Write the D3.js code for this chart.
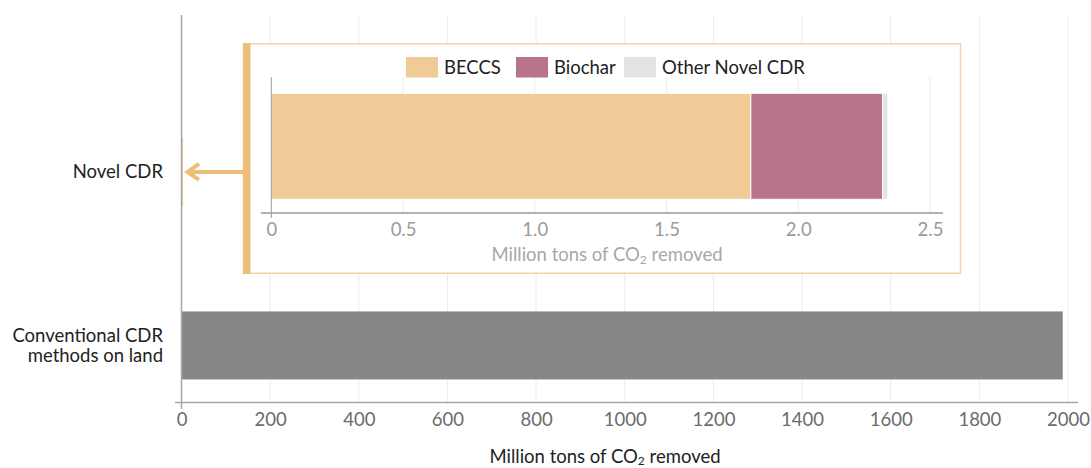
<!DOCTYPE html>
<html><head><meta charset="utf-8">
<script src="https://cdn.jsdelivr.net/npm/d3@7"></script>
<style>
body{margin:0;background:#fff;}
svg{display:block;font-family:Lato,"Open Sans",sans-serif;}
</style></head>
<body>
<svg id="chart" width="1091" height="468"></svg>
<script>
// ---- data ----
const categories = ["Novel CDR", "Conventional CDR methods on land"];
const categoryLines = [["Novel CDR"], ["Conventional CDR", "methods on land"]];
const totals = [2.34, 1987];
const novelSegments = ["BECCS", "Biochar", "Other Novel CDR"];
const novelValues = [1.82, 0.50, 0.02];
const mainTicks = [0, 200, 400, 600, 800, 1000, 1200, 1400, 1600, 1800, 2000];
const insetTicks = [0, 0.5, 1.0, 1.5, 2.0, 2.5];
const insetTickLabels = ["0", "0.5", "1.0", "1.5", "2.0", "2.5"];

const segColors = ["#F0CB98", "#B8758A", "#E3E3E3"];
const mainColors = ["#F0CB98", "#878787"];
const accent = "#EDBE78";
const FS = 18.5;

const svg = d3.select("#chart");

// ---- main chart ----
const x = d3.scaleLinear().domain([0, 2000]).range([181.5, 1068]);
const y = d3.scaleBand().domain(categories).range([15, 402])
  .paddingInner(0.608).paddingOuter(0.419).align(0.845);

// gridlines
svg.append("g").selectAll("line").data(mainTicks.slice(1)).join("line")
  .attr("x1", d => x(d)).attr("x2", d => x(d))
  .attr("y1", 15).attr("y2", 402)
  .attr("stroke", "#ebebeb").attr("stroke-width", 1);

// bars
svg.append("g").selectAll("rect").data(categories).join("rect")
  .attr("x", x(0) + 0.5)
  .attr("y", d => y(d))
  .attr("width", (d, i) => Math.max(1, x(totals[i]) - x(0)))
  .attr("height", y.bandwidth())
  .attr("fill", (d, i) => mainColors[i]);

// x axis
const xAxis = d3.axisBottom(x).tickValues(mainTicks).tickSize(0).tickPadding(10)
  .tickFormat(d3.format("d"));
const gx = svg.append("g").attr("transform", "translate(0,402.5)").call(xAxis);
gx.select(".domain").remove();
gx.selectAll("text").attr("font-size", FS).attr("fill", "#6b6b6b")
  .attr("font-family", "Lato, sans-serif");
svg.append("line").attr("x1", 175).attr("x2", 1078).attr("y1", 402.5).attr("y2", 402.5)
  .attr("stroke", "#a6a6a6").attr("stroke-width", 1.5);
// y axis line
svg.append("line").attr("x1", x(0)).attr("x2", x(0)).attr("y1", 15).attr("y2", 409)
  .attr("stroke", "#a6a6a6").attr("stroke-width", 1.5);

// category labels
const lab = svg.append("g").selectAll("text").data(categories).join("text")
  .attr("text-anchor", "end")
  .attr("font-size", FS).attr("fill", "#222")
  .attr("x", 163)
  .attr("y", (d, i) => y(d) + y.bandwidth() / 2 - (categoryLines[i].length - 1) * 10 + 6.5);
lab.each(function(d, i) {
  d3.select(this).selectAll("tspan").data(categoryLines[i]).join("tspan")
    .attr("x", 163).attr("dy", (t, j) => j === 0 ? 0 : 20.5).text(t => t);
});

// main axis title
const t1 = svg.append("text").attr("x", 605).attr("y", 463).attr("text-anchor", "middle")
  .attr("font-size", FS).attr("fill", "#222");
t1.append("tspan").text("Million tons of CO");
t1.append("tspan").attr("font-size", 12).attr("dy", 1.5).text("2");
t1.append("tspan").attr("dy", -1.5).text(" removed");

// ---- inset ----
const bx0 = 243, bx1 = 960.5, by0 = 43, by1 = 274;
svg.append("rect").attr("x", bx0 + 0.5).attr("y", by0 + 0.75)
  .attr("width", bx1 - bx0 - 0.5).attr("height", by1 - by0 - 1.5)
  .attr("fill", "#fff").attr("stroke", "#F3D5A4").attr("stroke-width", 1.5);
svg.append("rect").attr("x", bx0).attr("y", by0).attr("width", 7.5).attr("height", by1 - by0)
  .attr("fill", accent);

// arrow
const ay = y(categories[0]) + y.bandwidth() / 2;
svg.append("line").attr("x1", bx0).attr("x2", 188).attr("y1", ay).attr("y2", ay)
  .attr("stroke", accent).attr("stroke-width", 4);
svg.append("path")
  .attr("d", `M199,${ay - 8} L187.5,${ay} L199,${ay + 8}`)
  .attr("fill", "none").attr("stroke", accent).attr("stroke-width", 4)
  .attr("stroke-linejoin", "miter");

const xi = d3.scaleLinear().domain([0, 2.5]).range([271.3, 930]);
const yi = d3.scaleBand().domain(["Novel CDR"]).range([77, 213]).padding(0.124).align(0.543);

svg.append("g").selectAll("line").data(insetTicks.slice(1)).join("line")
  .attr("x1", d => xi(d)).attr("x2", d => xi(d))
  .attr("y1", 77).attr("y2", 213)
  .attr("stroke", "#ececec").attr("stroke-width", 1);

// stacked segments
const starts = novelValues.map((v, i) => d3.sum(novelValues.slice(0, i)));
svg.append("g").selectAll("rect").data(novelSegments).join("rect")
  .attr("x", (d, i) => xi(starts[i]))
  .attr("width", (d, i) => xi(starts[i] + novelValues[i]) - xi(starts[i]))
  .attr("y", yi("Novel CDR"))
  .attr("height", yi.bandwidth())
  .attr("fill", (d, i) => segColors[i])
  .attr("stroke", "#fff").attr("stroke-width", 1);

const xiAxis = d3.axisBottom(xi).tickValues(insetTicks).tickSize(0).tickPadding(10)
  .tickFormat((d, i) => insetTickLabels[i]);
const gxi = svg.append("g").attr("transform", "translate(0,213)").call(xiAxis);
gxi.select(".domain").remove();
gxi.selectAll("text").attr("font-size", FS).attr("fill", "#9a9a9a")
  .attr("font-family", "Lato, sans-serif");
svg.append("line").attr("x1", 261).attr("x2", 943).attr("y1", 213).attr("y2", 213)
  .attr("stroke", "#999").attr("stroke-width", 1.5);
svg.append("line").attr("x1", xi(0)).attr("x2", xi(0)).attr("y1", 77).attr("y2", 218)
  .attr("stroke", "#999").attr("stroke-width", 1);

const t2 = svg.append("text").attr("x", 607).attr("y", 261).attr("text-anchor", "middle")
  .attr("font-size", FS).attr("fill", "#a8a8a8");
t2.append("tspan").text("Million tons of CO");
t2.append("tspan").attr("font-size", 12).attr("dy", 3).text("2");
t2.append("tspan").attr("dy", -3).text(" removed");

// legend
const legX = [406, 516, 624];
const leg = svg.append("g").selectAll("g").data(novelSegments).join("g")
  .attr("transform", (d, i) => `translate(${legX[i]},57)`);
leg.append("rect").attr("width", 32).attr("height", 20.5).attr("fill", (d, i) => segColors[i]);
leg.append("text").attr("x", 38).attr("y", 16.5).attr("font-size", FS).attr("fill", "#222")
  .text(d => d);
</script>
</body></html>
